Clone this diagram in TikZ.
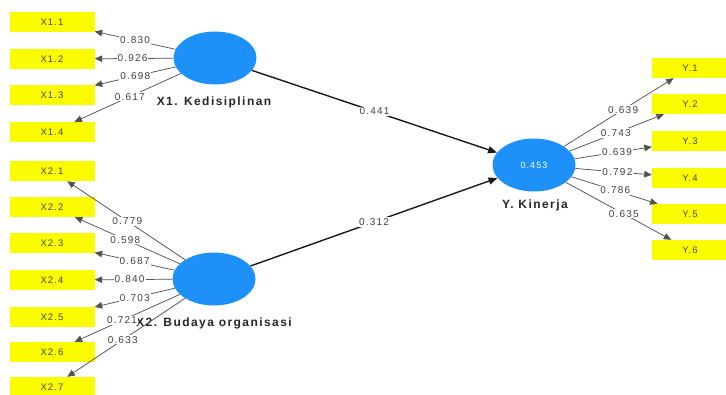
\documentclass[tikz,border=0pt]{standalone}
\usepackage{fontspec}
\setmainfont[LetterSpace=12]{Liberation Sans}
\usetikzlibrary{shapes.geometric,arrows.meta}
\definecolor{lvblue}{RGB}{30,144,250}
\definecolor{indyel}{RGB}{252,252,0}
\begin{document}
\begin{tikzpicture}[x=1pt,y=-1pt,
 ind/.style={fill=indyel, minimum width=85pt, minimum height=20pt, inner sep=0pt, font=\fontsize{9.5}{11}\selectfont, text=black!72},
 yind/.style={ind, minimum width=76pt},
 lv/.style={ellipse, fill=lvblue, minimum width=83pt, minimum height=53pt, inner sep=0pt},
 lvlab/.style={font=\bfseries\fontsize{12}{14}\selectfont, text=black!85},
 load/.style={draw=black!68, line width=0.75pt, -{Triangle[length=7.5pt,width=6.5pt]}},
 pathc/.style={draw=black!90, line width=1.4pt, -{Triangle[length=9pt,width=7pt]}},
 lbl/.style={fill=white, inner sep=1pt, font=\fontsize{10}{12}\selectfont, text=black!75}
]
\useasboundingbox (0,0) rectangle (726,394);
% latent variables
\node[lv] (x1) at (215,58) {};
\node[lv] (x2) at (214,279) {};
\node[lv, text=white, font=\fontsize{9}{11}\selectfont] (y) at (534,165) {0.453};
\node[lvlab] (x1lab) at (214,102) {X1. Kedisiplinan};
\node[lvlab] (x2lab) at (214,323) {X2. Budaya organisasi};
\node[lvlab] (ylab) at (535,205) {Y. Kinerja};
% indicators X1
\node[ind] (x11) at (52,22) {X1.1};
\node[ind] (x12) at (52,59) {X1.2};
\node[ind] (x13) at (52,95) {X1.3};
\node[ind] (x14) at (52,132) {X1.4};
% indicators X2
\node[ind] (x21) at (52,171) {X2.1};
\node[ind] (x22) at (52,207) {X2.2};
\node[ind] (x23) at (52,243) {X2.3};
\node[ind] (x24) at (52,280) {X2.4};
\node[ind] (x25) at (52,317) {X2.5};
\node[ind] (x26) at (52,352) {X2.6};
\node[ind] (x27) at (52,387) {X2.7};
% indicators Y
\node[yind] (y1) at (690,68) {Y.1};
\node[yind] (y2) at (690,104) {Y.2};
\node[yind] (y3) at (690,141) {Y.3};
\node[yind] (y4) at (690,178) {Y.4};
\node[yind] (y5) at (690,214) {Y.5};
\node[yind] (y6) at (690,250) {Y.6};
% outer loadings X1
\draw[load] (x1) -- node[lbl,pos=0.5]{0.830} (x11);
\draw[load] (x1) -- node[lbl,pos=0.52]{0.926} (x12);
\draw[load] (x1) -- node[lbl,pos=0.5]{0.698} (x13);
\draw[load] (x1) -- node[lbl,pos=0.48]{0.617} (x14);
% outer loadings X2
\draw[load] (x2) -- node[lbl,pos=0.49]{0.779} (x21);
\draw[load] (x2) -- node[lbl,pos=0.52]{0.598} (x22);
\draw[load] (x2) -- node[lbl,pos=0.5]{0.687} (x23);
\draw[load] (x2) -- node[lbl,pos=0.55]{0.840} (x24);
\draw[load] (x2) -- node[lbl,pos=0.5]{0.703} (x25);
\draw[load] (x2) -- node[lbl,pos=0.55]{0.721} (x26);
\draw[load] (x2) -- node[lbl,pos=0.53]{0.633} (x27);
% outer loadings Y
\draw[load] (y) -- node[lbl,pos=0.54]{0.639} (y1);
\draw[load] (y) -- node[lbl,pos=0.49]{0.743} (y2);
\draw[load] (y) -- node[lbl,pos=0.55]{0.639} (y3);
\draw[load] (y) -- node[lbl,pos=0.55]{0.792} (y4);
\draw[load] (y) -- node[lbl,pos=0.51]{0.786} (y5);
\draw[load] (y) -- node[lbl,pos=0.55]{0.635} (y6);
% path coefficients
\draw[pathc] (x1) -- node[lbl,pos=0.5]{0.441} (y);
\draw[pathc] (x2) -- node[lbl,pos=0.5]{0.312} (y);
\end{tikzpicture}
\end{document}
